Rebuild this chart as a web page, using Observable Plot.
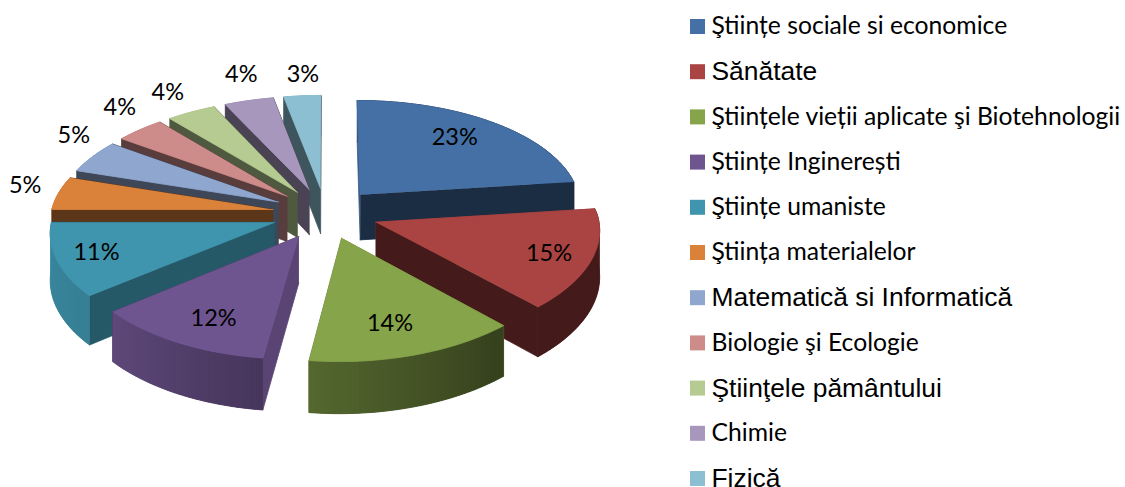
<!DOCTYPE html>
<html lang="ro">
<head>
<meta charset="utf-8">
<title>Domenii</title>
<script src="https://cdn.jsdelivr.net/npm/d3@7"></script>
<script src="https://cdn.jsdelivr.net/npm/@observablehq/plot@0.6"></script>
<style>html,body{margin:0;padding:0;background:#fff}svg{display:block}</style>
</head>
<body>
<div id="chart"></div>
<script>
const domains = ["Ştiințe sociale si economice","Sănătate","Ştiințele vieții aplicate şi Biotehnologii","Științe Inginerești","Ştiințe umaniste","Ştiința materialelor","Matematică si Informatică","Biologie şi Ecologie","Ştiinţele pământului","Chimie","Fizică"];
const shares = [23,15,14,12,11,5,5,4,4,4,3];
const palette = ["#4470a6","#a94442","#86a44a","#6f5590","#3f95ae","#da813a","#8fa6cf","#cd8b8a","#b6cb91","#a897bd","#8dbfd2"];
const arialRows = ["Sănătate","Matematică si Informatică","Ştiinţele pământului","Fizică"];
const labelReach = [.745,.81,.745,.77,.82,1.175,1.21,1.26,1.26,1.31,1.25];
const labelTurn = [-2.7,.6,1.7,-2.4,.4,2.6,6.9,4.5,.4,2.1,1.1];

const W = 1125, H = 487;
const pie = {cx:325, cy:213, R:222, A:106.5, p:0.095, pFront:0.074, skew:3.3, depth:46, explode:0.24};
const project = (X, Y, z = 0) => {
  const s = 1 / (1 - pie.p * Y);
  const sx = Y > 0 ? 1 / (1 - pie.pFront * Y) : s;
  const lean = Y > 0 ? pie.skew * Y : 0;
  return {x: pie.cx - lean + X * sx * pie.R, y: pie.cy + Y * s * pie.A + z * s * pie.depth};
};
const wallShade = d3.scaleLinear([80,140,187,231,270,360],[.4,.4,.63,.85,.92,.92]).clamp(true);
const edgeShade = d3.scaleLinear([187,230,270,360],[.8,.6,.42,.45]).clamp(true);
const shade = (c, f) => { const r = d3.rgb(c); return d3.rgb(r.r*f, r.g*f, r.b*f).formatHex(); };

const total = d3.sum(shares);
let cum = 0;
const slices = shares.map((v, i) => {
  const a0 = cum / total * 2 * Math.PI; cum += v;
  const a1 = cum / total * 2 * Math.PI;
  const mid = (a0 + a1) / 2;
  return {i, v, a0, a1, mid, ox: Math.sin(mid) * pie.explode, oy: -Math.cos(mid) * pie.explode, color: palette[i]};
});
const polar = (s, a, r = 1) => [s.ox + Math.sin(a) * r, s.oy - Math.cos(a) * r];
const deg = a => a * 180 / Math.PI;

const polys = [];
let nid = 0;
const addPoly = (pts, color, stroke = color) => { const id = nid++; pts.forEach(p => polys.push({id, x:p.x, y:p.y, color, stroke})); };
const quad = (P, Q, color, stroke) => addPoly([project(...P,0),project(...Q,0),project(...Q,1),project(...P,1)], color, stroke);

[...slices].sort((a,b) => a.oy - b.oy).forEach(s => {
  const apex = [s.ox, s.oy], n = Math.max(4, Math.ceil(deg(s.a1 - s.a0) / 1.5));
  const arc = d3.range(n + 1).map(k => s.a0 + (s.a1 - s.a0) * k / n);
  const overlap = 0.4 * Math.PI / 180;
  const faces = [
    {d: (polar(s,s.a0)[1] + s.oy) / 2, draw: () => quad(apex, polar(s,s.a0), shade(s.color, edgeShade(deg(s.a0))))},
    {d: (polar(s,s.a1)[1] + s.oy) / 2, draw: () => quad(apex, polar(s,s.a1), shade(s.color, s.a1 < Math.PI ? .4 : edgeShade(deg(s.a0))))},
    {d: d3.mean(arc, a => polar(s,a)[1]), draw: () => {
      addPoly([...arc.map(a => project(...polar(s,a),0)), ...[...arc].reverse().map(a => project(...polar(s,a),1))], shade(s.color, wallShade(deg(s.mid))));
      d3.pairs(arc).forEach(([u,v]) => quad(polar(s,u), polar(s,Math.min(v + overlap, s.a1)), shade(s.color, wallShade(deg((u+v)/2))), "none"));
    }}
  ];
  faces.sort((a,b) => a.d - b.d).forEach(f => f.draw());
  addPoly([project(...apex), ...arc.map(a => project(...polar(s,a)))], s.color);
});

const pctLabels = slices.map(s => {
  const q = project(...polar(s, s.mid + labelTurn[s.i] * Math.PI / 180, labelReach[s.i]));
  return {x:q.x, y:q.y, text:`${s.v}%`};
});
const rows = domains.map((name, i) => ({name, color:palette[i], x:697, tx:711, y:26 + i * 45.2}));
const isArial = d => arialRows.includes(d.name);

const chart = Plot.plot({
  width:W, height:H, margin:0,
  style:{background:"#fff", color:"#000"},
  x:{domain:[0,W], range:[0,W], axis:null},
  y:{domain:[0,H], range:[0,H], axis:null},
  color:{type:"identity"},
  marks:[
    Plot.line(polys, {x:"x", y:"y", z:"id", fill:"color", stroke:"stroke", strokeWidth:.8, curve:"linear"}),
    Plot.text(pctLabels, {x:"x", y:"y", text:"text", fontSize:23.5, fontFamily:"Lato", fill:"#000"}),
    Plot.dot(rows, {x:"x", y:"y", symbol:"square", r:8.46, fill:"color", stroke:null}),
    Plot.text(rows.filter(d => !isArial(d)), {x:"tx", y:"y", text:"name", textAnchor:"start", fontSize:24.7, fontFamily:"Lato", fill:"#000"}),
    Plot.text(rows.filter(isArial), {x:"tx", y:"y", text:"name", textAnchor:"start", fontSize:26.4, fontFamily:"Liberation Sans", fill:"#000"})
  ]
});
document.getElementById("chart").append(chart);
</script>
</body>
</html>
